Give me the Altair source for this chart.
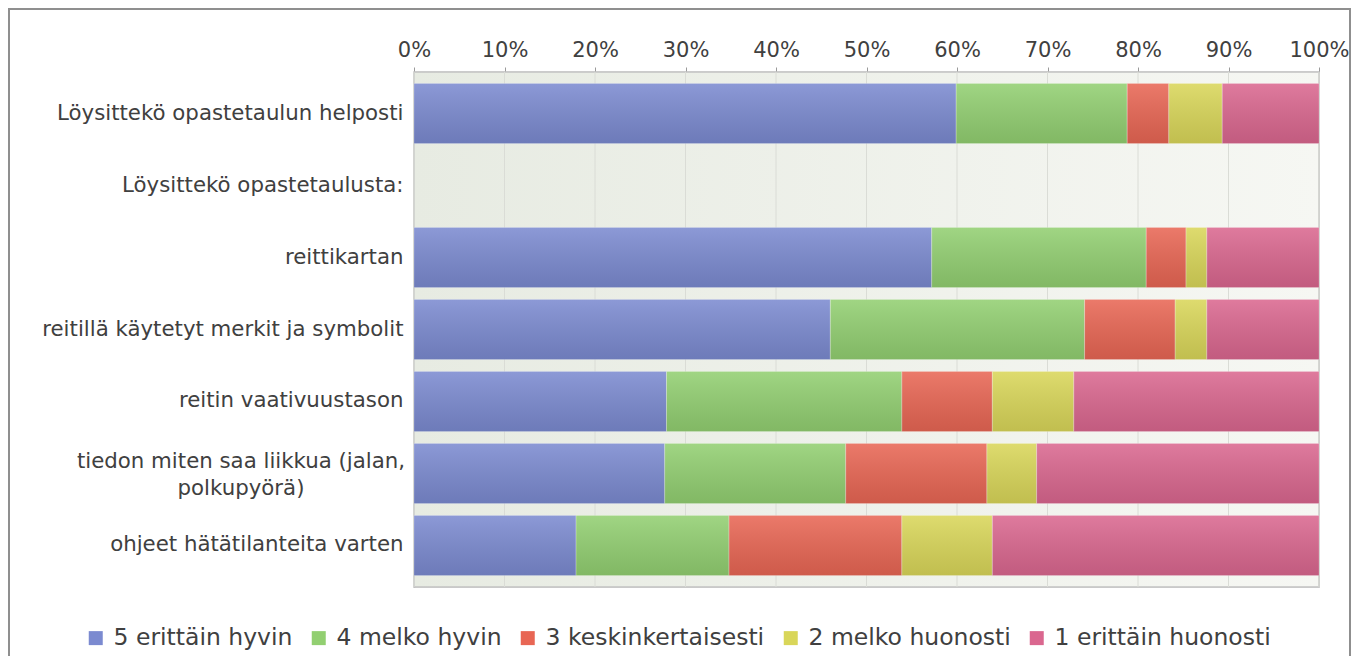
import altair as alt
import pandas as pd

categories = [
    "Löysittekö opastetaulun helposti",
    "Löysittekö opastetaulusta:",
    "reittikartan",
    "reitillä käytetyt merkit ja symbolit",
    "reitin vaativuustason",
    "tiedon miten saa liikkua (jalan, polkupyörä)",
    "ohjeet hätätilanteita varten",
]
series = ["5 erittäin hyvin", "4 melko hyvin", "3 keskinkertaisesti",
          "2 melko huonosti", "1 erittäin huonosti"]
colors = ["#7b8ad0", "#92cf71", "#e86654", "#d9d659", "#da678f"]

s5 = [59.9, None, 57.2, 46.0, 27.9, 27.7, 17.9]
s4 = [18.9, None, 23.7, 28.1, 26.0, 20.0, 16.9]
s3 = [4.6, None, 4.4, 10.0, 10.0, 15.6, 19.1]
s2 = [5.9, None, 2.3, 3.5, 9.0, 5.5, 10.0]
s1 = [10.7, None, 12.4, 12.4, 27.1, 31.2, 36.1]

tick_values = [0, 0.1, 0.2, 0.3, 0.4, 0.5, 0.6, 0.7, 0.8, 0.9, 1.0]

wrapped_category = "tiedon miten saa liikkua (jalan, polkupyörä)"
wrapped_text = "tiedon miten saa liikkua (jalan,|polkupyörä)"

rows = []
for si, (name, vals) in enumerate(zip(series, [s5, s4, s3, s2, s1])):
    for c, v in zip(categories, vals):
        if v is not None:
            rows.append({"category": c, "series": name, "order": si, "value": v})
df = pd.DataFrame(rows)

W, H = 905, 515
FONT = "DejaVu Sans"
TXT = "#404040"

y_scale = alt.Scale(domain=categories, paddingInner=0.1667, paddingOuter=0.16)
x_scale = alt.Scale(domain=[0, 1], nice=False)

y_axis = alt.Axis(title=None, orient="left", ticks=False, domain=True,
                  domainColor="#9a9a9a", domainWidth=1.5, grid=False,
                  labelFont=FONT, labelFontSize=21.3, labelColor=TXT,
                  labelPadding=11, labelLimit=400,
                  labelExpr="datum.value == '" + wrapped_category + "' ? '' : datum.value")
x_axis = alt.Axis(title=None, orient="top", format=".0%", values=tick_values,
                  grid=False, tickSize=5, tickColor="#9a9a9a", domainColor="#9a9a9a",
                  domainWidth=1.5, labelFont=FONT, labelFontSize=21,
                  labelColor=TXT, labelPadding=7, labelFlush=False)

# outer frame
frame = alt.Chart(pd.DataFrame({"a": [0]})).mark_rect(
    filled=False, stroke="#8f8f8f", strokeWidth=2
).encode(x=alt.value(-405), x2=alt.value(936), y=alt.value(-63), y2=alt.value(720))

# plot background with gradient
bg = alt.Chart(pd.DataFrame({"a": [0]})).mark_rect(
    fill=alt.LinearGradient(
        gradient="linear",
        stops=[alt.GradientStop(color="#e7ebe2", offset=0),
               alt.GradientStop(color="#f6f7f3", offset=1)],
        x1=0, x2=1, y1=0, y2=0),
    stroke="#c2c2c2", strokeWidth=1.5
).encode(x=alt.value(0), x2=alt.value(W), y=alt.value(0), y2=alt.value(H))

grid = alt.Chart(pd.DataFrame({"t": tick_values})).mark_rule(
    color="#dadcd6", strokeWidth=1
).encode(x=alt.X("t:Q", scale=x_scale, axis=x_axis))

bars = alt.Chart(df).mark_bar().encode(
    y=alt.Y("category:N", scale=y_scale, sort=categories, axis=y_axis),
    x=alt.X("value:Q", stack="normalize", scale=x_scale, axis=x_axis),
    color=alt.Color("series:N", scale=alt.Scale(domain=series, range=colors),
                    legend=alt.Legend(orient="none", legendX=-330, legendY=554,
                                      direction="horizontal", columns=5, title=None,
                                      symbolType="square", symbolSize=196,
                                      symbolStrokeWidth=0, labelFont=FONT,
                                      labelFontSize=23.5, labelColor=TXT,
                                      columnPadding=14, labelOffset=6, padding=0,
                                      labelLimit=400)),
    order=alt.Order("order:Q"),
)

shade = alt.Chart(df).mark_bar(
    fill=alt.LinearGradient(
        gradient="linear",
        stops=[alt.GradientStop(color="rgba(255,255,255,0.13)", offset=0),
               alt.GradientStop(color="rgba(0,0,0,0.11)", offset=1)],
        x1=0, x2=0, y1=0, y2=1),
    stroke="rgba(255,255,255,0.25)", strokeWidth=0.8
).encode(
    y=alt.Y("category:N", scale=y_scale, sort=categories, axis=y_axis),
    x=alt.X("value:Q", stack="normalize", scale=x_scale, axis=x_axis),
    detail="series:N",
    order=alt.Order("order:Q"),
)

label2 = alt.Chart(pd.DataFrame({"category": [wrapped_category], "label": [wrapped_text]})).mark_text(
    align="center", baseline="middle", lineBreak="|", font=FONT, fontSize=21.3,
    color=TXT, lineHeight=27, dy=-11
).encode(
    y=alt.Y("category:N", scale=y_scale, sort=categories, axis=y_axis),
    x=alt.value(-173),
    text="label:N",
)

chart = alt.layer(frame, bg, grid, bars, shade, label2).properties(
    width=W, height=H,
    padding={"left": 406, "top": 64, "right": 33, "bottom": 69},
    autosize=alt.AutoSizeParams(type="none"),
).configure_view(stroke=None).configure(background="white")

chart.save("out.html", embed_options={"renderer": "svg", "actions": False})
